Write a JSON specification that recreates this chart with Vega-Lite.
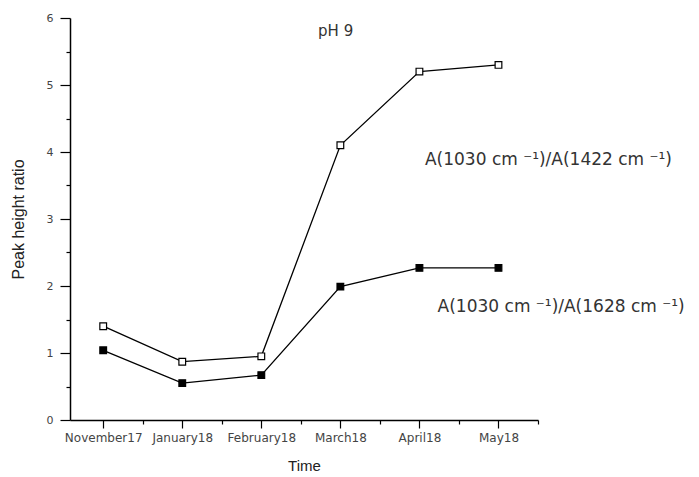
{
  "$schema": "https://vega.github.io/schema/vega-lite/v6.json",
  "autosize": "none",
  "width": 468,
  "height": 402,
  "padding": {"left": 70, "top": 18, "right": 161, "bottom": 57},
  "background": "white",
  "config": {
    "view": {"stroke": null},
    "font": "DejaVu Sans",
    "axis": {"grid": false, "domainColor": "#000", "domainWidth": 1.5, "tickColor": "#000", "tickWidth": 1.2, "labelColor": "#444", "labelFont": "DejaVu Sans", "titleFont": "Liberation Sans", "titleFontWeight": "normal", "titleColor": "#222"}
  },
  "data": {
    "values": [
      {"t": 1, "month": "November17", "series": "1422", "ratio": 1.40},
      {"t": 2, "month": "January18", "series": "1422", "ratio": 0.87},
      {"t": 3, "month": "February18", "series": "1422", "ratio": 0.95},
      {"t": 4, "month": "March18", "series": "1422", "ratio": 4.10},
      {"t": 5, "month": "April18", "series": "1422", "ratio": 5.20},
      {"t": 6, "month": "May18", "series": "1422", "ratio": 5.30},
      {"t": 1, "month": "November17", "series": "1628", "ratio": 1.04},
      {"t": 2, "month": "January18", "series": "1628", "ratio": 0.55},
      {"t": 3, "month": "February18", "series": "1628", "ratio": 0.67},
      {"t": 4, "month": "March18", "series": "1628", "ratio": 1.99},
      {"t": 5, "month": "April18", "series": "1628", "ratio": 2.27},
      {"t": 6, "month": "May18", "series": "1628", "ratio": 2.27}
    ]
  },
  "encoding": {
    "x": {
      "field": "t", "type": "quantitative",
      "scale": {"domain": [0.58, 6.5], "nice": false, "zero": false},
      "axis": {
        "title": "Time", "titleFontSize": 15, "titlePadding": 15,
        "values": [1, 1.5, 2, 2.5, 3, 3.5, 4, 4.5, 5, 5.5, 6, 6.5],
        "labelExpr": "datum.value % 1 === 0 ? ['November17','January18','February18','March18','April18','May18'][datum.value - 1] : ''",
        "labelFontSize": 12, "labelPadding": 4, "labelOverlap": false, "labelFlush": false,
        "tickSize": {"condition": {"test": "datum.value % 1 === 0", "value": 8}, "value": 4}
      }
    },
    "y": {
      "field": "ratio", "type": "quantitative",
      "scale": {"domain": [0, 6], "nice": false},
      "axis": {
        "title": "Peak height ratio", "titleFontSize": 16, "titlePadding": 20,
        "values": [0, 0.5, 1, 1.5, 2, 2.5, 3, 3.5, 4, 4.5, 5, 5.5, 6],
        "labelExpr": "datum.value % 1 === 0 ? format(datum.value, 'd') : ''",
        "labelFontSize": 11, "labelPadding": 7, "labelOverlap": false,
        "tickSize": {"condition": {"test": "datum.value % 1 === 0", "value": 10}, "value": 4}
      }
    }
  },
  "layer": [
    {
      "mark": {"type": "line", "color": "#000", "strokeWidth": 1.3},
      "encoding": {"detail": {"field": "series"}}
    },
    {
      "mark": {"type": "point", "shape": "square", "filled": true, "size": 45, "stroke": "#000", "strokeWidth": 1.2, "opacity": 1},
      "encoding": {
        "fill": {"field": "series", "type": "nominal", "scale": {"domain": ["1422", "1628"], "range": ["#ffffff", "#000000"]}, "legend": null}
      }
    },
    {
      "transform": [{"filter": "datum.t === 1 && datum.series === '1422'"}],
      "mark": {"type": "text", "align": "left", "baseline": "middle", "fontSize": 17, "fill": "#333", "font": "DejaVu Sans"},
      "encoding": {"x": {"datum": 5.07}, "y": {"datum": 3.88}, "text": {"value": "A(1030 cm ⁻¹)/A(1422 cm ⁻¹)"}}
    },
    {
      "transform": [{"filter": "datum.t === 1 && datum.series === '1422'"}],
      "mark": {"type": "text", "align": "left", "baseline": "middle", "fontSize": 17, "fill": "#333", "font": "DejaVu Sans"},
      "encoding": {"x": {"datum": 5.23}, "y": {"datum": 1.69}, "text": {"value": "A(1030 cm ⁻¹)/A(1628 cm ⁻¹)"}}
    },
    {
      "transform": [{"filter": "datum.t === 1 && datum.series === '1422'"}],
      "mark": {"type": "text", "align": "center", "baseline": "middle", "fontSize": 15, "fill": "#333", "font": "DejaVu Sans"},
      "encoding": {"x": {"datum": 3.94}, "y": {"datum": 5.81}, "text": {"value": "pH 9"}}
    }
  ]
}
